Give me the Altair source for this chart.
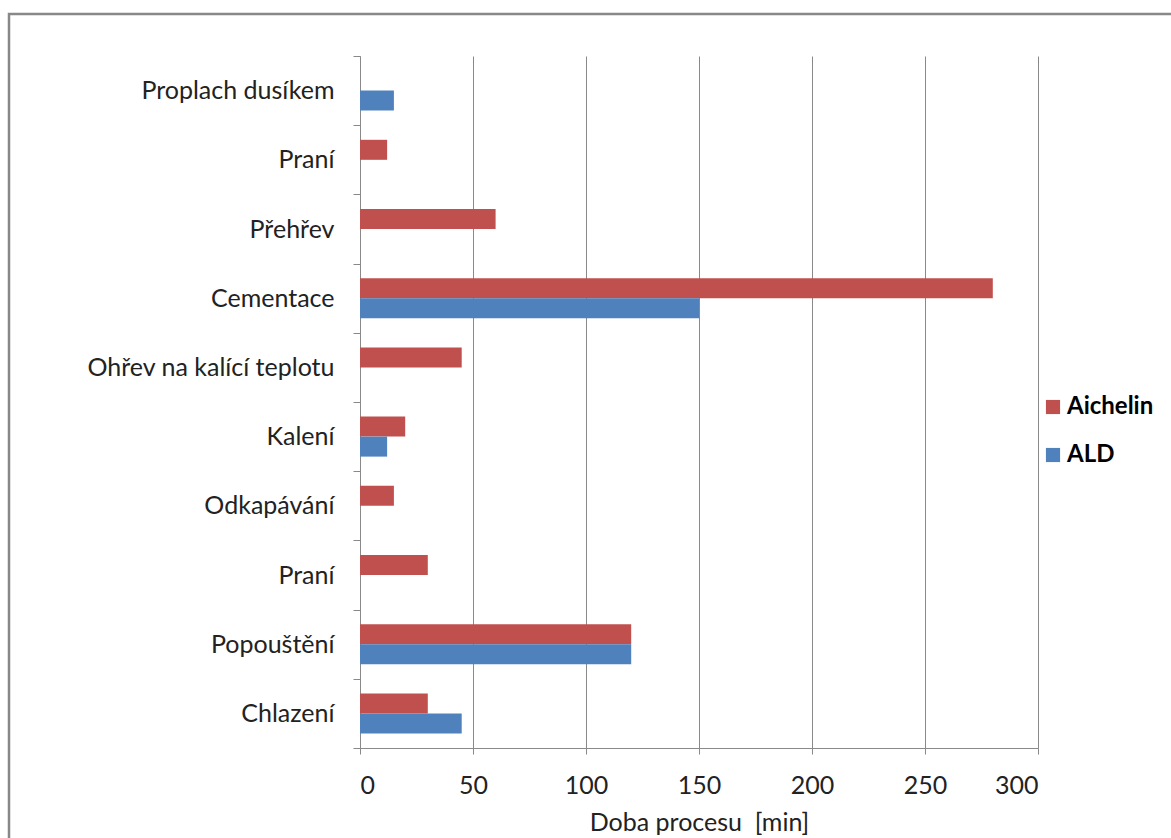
import altair as alt
import pandas as pd

categories = ["Proplach dusíkem", "Praní", "Přehřev", "Cementace",
              "Ohřev na kalící teplotu", "Kalení", "Odkapávání", "Praní",
              "Popouštění", "Chlazení"]
aichelin = [None, 12, 60, 280, 45, 20, 15, 30, 120, 30]
ald = [15, None, None, 150, None, 12, None, None, 120, 45]
series = ["Aichelin", "ALD"]
colors = ["#C0504D", "#4F81BD"]
x_ticks = [0, 50, 100, 150, 200, 250, 300]

rows = []
for i, cat in enumerate(categories):
    for s, vals in zip(series, [aichelin, ald]):
        if vals[i] is not None:
            rows.append({"key": str(i), "label": cat, "series": s, "value": vals[i]})
df = pd.DataFrame(rows)

label_list = ",".join("'" + c + "'" for c in categories)
label_expr = "[" + label_list + "][toNumber(datum.value)]"

FONT = "Lato"
GRAY = "#898989"
FS = 25

bars = alt.Chart(df).mark_bar().encode(
    x=alt.X("value:Q",
            scale=alt.Scale(domain=[0, 300], nice=False, zero=True),
            axis=alt.Axis(values=x_ticks, title="Doba procesu\u00a0\u00a0[min]",
                          grid=True, gridColor=GRAY, gridWidth=1,
                          domainColor=GRAY, tickColor=GRAY, tickSize=6,
                          labelFontSize=FS, labelFont=FONT, labelColor="#222222",
                          labelPadding=19, titleFontSize=FS, titleFont=FONT,
                          titleFontWeight="normal", titleColor="#222222",
                          titlePadding=12)),
    y=alt.Y("key:N", sort=[str(i) for i in range(len(categories))],
            scale=alt.Scale(paddingInner=0, paddingOuter=0),
            axis=alt.Axis(title=None, labelExpr=label_expr, tickBand="extent",
                          domainColor=GRAY, tickColor=GRAY, tickSize=7,
                          labelFontSize=FS, labelFont=FONT, labelColor="#222222",
                          labelPadding=19, labelLimit=400, grid=False)),
    yOffset=alt.YOffset("series:N", sort=series,
                        scale=alt.Scale(domain=series, paddingInner=0, paddingOuter=0.73)),
    color=alt.Color("series:N", sort=series,
                    scale=alt.Scale(domain=series, range=colors),
                    legend=alt.Legend(title=None, orient="none", legendX=681, legendY=339,
                                      symbolType="square", symbolSize=200,
                                      symbolStrokeWidth=0, labelFontSize=24,
                                      labelFont=FONT, labelFontWeight="bold",
                                      labelColor="#000000", rowPadding=24,
                                      labelOffset=2)),
)

border = alt.Chart(alt.Data(values=[{}])).mark_rect(
    fill=None, stroke="#888888", strokeWidth=2.5
).encode(
    x=alt.value(-351), x2=alt.value(840), y=alt.value(-42), y2=alt.value(820)
)

chart = alt.layer(bars, border).properties(
    width=678, height=692,
    autosize=alt.AutoSizeParams(type="none"),
    padding={"left": 360, "top": 56, "right": 133, "bottom": 90},
    background="white",
).configure_view(stroke=None)

chart.save("out.html", embed_options={"renderer": "svg", "actions": False})
